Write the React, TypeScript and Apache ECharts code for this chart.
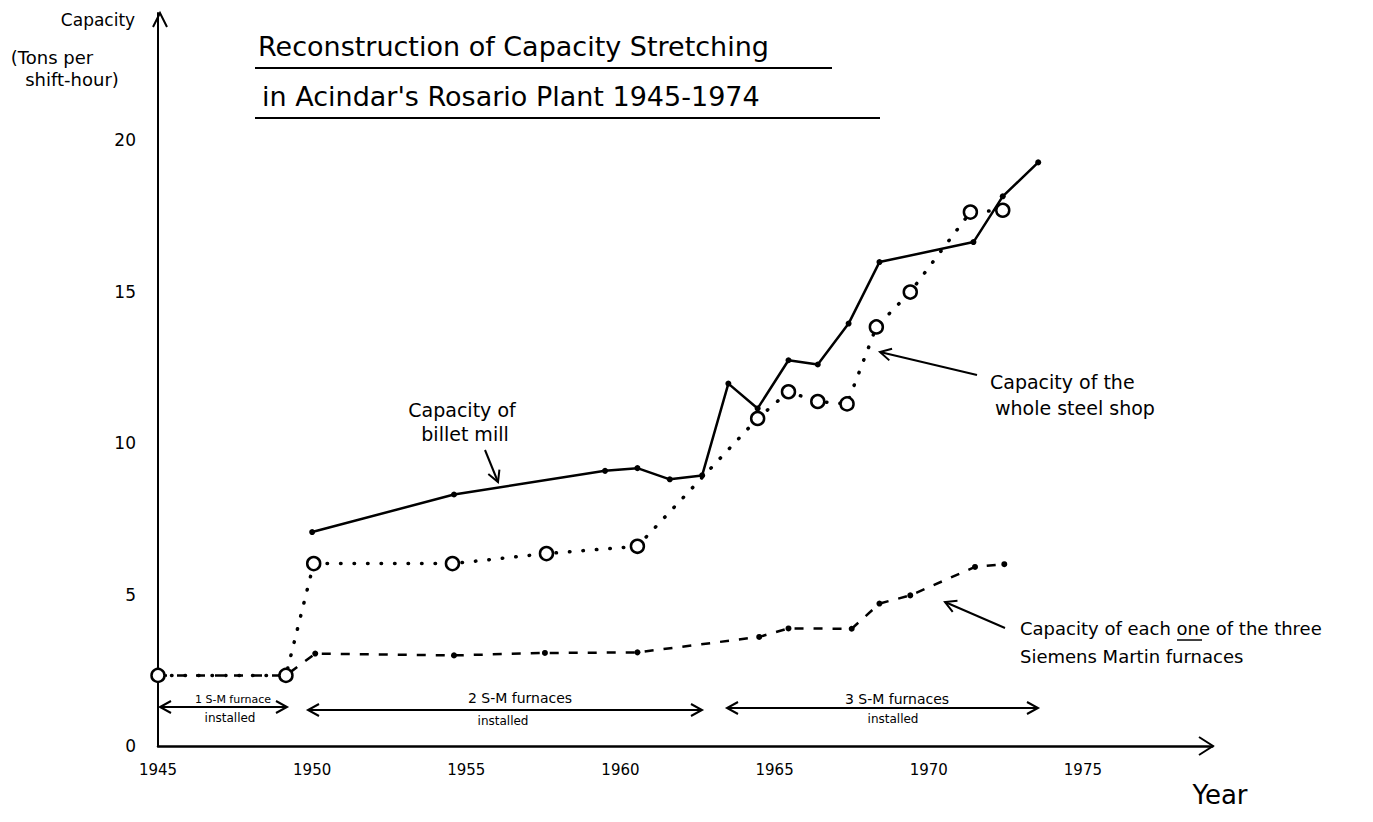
import React, { useEffect, useRef } from "react";
import * as echarts from "echarts";

// ---------- data ----------
const billetYears = [1950.0, 1954.6, 1959.5, 1960.55, 1961.6, 1962.65, 1963.5, 1964.45, 1965.45, 1966.4, 1967.4, 1968.4, 1971.45, 1972.4, 1973.55];
const billetCap = [7.07, 8.31, 9.09, 9.18, 8.81, 8.94, 11.97, 11.15, 12.74, 12.6, 13.95, 15.98, 16.64, 18.15, 19.27];

const wholeYears = [1945, 1949.15, 1950.05, 1954.55, 1957.6, 1960.55, 1964.45, 1965.45, 1966.4, 1967.35, 1968.3, 1969.4, 1971.35, 1972.4];
const wholeCap = [2.34, 2.34, 6.03, 6.03, 6.36, 6.6, 10.82, 11.7, 11.38, 11.3, 13.84, 14.99, 17.63, 17.69];

const furnaceYears = [1945, 1949.15, 1950.1, 1954.6, 1957.55, 1960.55, 1964.5, 1965.45, 1967.5, 1968.4, 1969.4, 1971.5, 1972.45];
const furnaceCap = [2.34, 2.34, 3.06, 3.0, 3.08, 3.1, 3.61, 3.89, 3.88, 4.71, 4.98, 5.92, 6.01];

const yearTicks = [1945, 1950, 1955, 1960, 1965, 1970, 1975];
const capTicks = [0, 5, 10, 15, 20];

const titleLines = ["Reconstruction of Capacity Stretching", "in Acindar's Rosario Plant 1945-1974"];
const yAxisTitle = ["Capacity", "(Tons per", "shift-hour)"];

const FONT = "'DejaVu Sans', 'Liberation Sans', sans-serif";

function zip(xs: number[], ys: number[]) {
  return xs.map((x, i) => [x, ys[i]]);
}

function head(x1: number, y1: number, x2: number, y2: number, len = 11, half = 6) {
  const dx = x2 - x1, dy = y2 - y1;
  const d = Math.sqrt(dx * dx + dy * dy) || 1;
  const ux = dx / d, uy = dy / d;
  const bx = x2 - ux * len, by = y2 - uy * len;
  const px = -uy, py = ux;
  return {
    type: "polyline",
    shape: { points: [[bx + px * half, by + py * half], [x2, y2], [bx - px * half, by - py * half]] },
    style: { stroke: "#000", lineWidth: 2, fill: null },
    z: 10,
  };
}

function arrow(x1: number, y1: number, x2: number, y2: number, both = false) {
  const els: any[] = [
    { type: "line", shape: { x1, y1, x2, y2 }, style: { stroke: "#000", lineWidth: 2 }, z: 10 },
    head(x1, y1, x2, y2),
  ];
  if (both) els.push(head(x2, y2, x1, y1));
  return els;
}

function txt(text: string, x: number, y: number, size: number, align = "center") {
  return {
    type: "text",
    x,
    y,
    z: 10,
    style: {
      text,
      fontSize: size,
      fontFamily: FONT,
      fill: "#000",
      align,
      verticalAlign: "middle",
      textAlign: align,
      textVerticalAlign: "middle",
    },
  };
}

function line(x1: number, y1: number, x2: number, y2: number, w = 2) {
  return { type: "line", shape: { x1, y1, x2, y2 }, style: { stroke: "#000", lineWidth: w }, z: 10 };
}

export default function App() {
  const ref = useRef<HTMLDivElement>(null);

  useEffect(() => {
    if (!ref.current) return;
    const chart = echarts.init(ref.current, undefined, { renderer: "svg" });

    const graphics: any[] = [
      // title
      txt(titleLines[0], 258, 46, 27, "left"),
      line(255, 68, 832, 68, 2),
      txt(titleLines[1], 262, 96, 27, "left"),
      line(255, 118, 880, 118, 2),
      // y-axis title
      txt(yAxisTitle[0], 98, 20, 17),
      txt(yAxisTitle[1], 52, 57, 18),
      txt(yAxisTitle[2], 72, 79, 18),
      // axis arrow heads
      head(160, 60, 160, 13, 14, 7),
      head(1150, 746, 1213, 746, 14, 9),
      // x axis name
      txt("Year", 1220, 795, 26),
      // annotations
      txt("Capacity of", 462, 410, 19),
      txt("billet mill", 465, 434, 19),
      ...arrow(485, 450, 498, 482),
      txt("Capacity of the", 990, 382, 19, "left"),
      txt("whole steel shop", 995, 408, 19, "left"),
      ...arrow(977, 375, 880, 352),
      txt("Capacity of each one of the three", 1020, 628, 18, "left"),
      line(1177, 640, 1202, 640, 1.5),
      txt("Siemens Martin furnaces", 1020, 656, 18, "left"),
      ...arrow(1005, 628, 945, 602),
      // furnace brackets
      ...arrow(160, 707, 287, 707, true),
      txt("1 S-M furnace", 233, 699, 11),
      txt("installed", 230, 718, 12),
      ...arrow(308, 710, 702, 710, true),
      txt("2 S-M furnaces", 520, 698, 14),
      txt("installed", 503, 721, 12),
      ...arrow(727, 708, 1038, 708, true),
      txt("3 S-M furnaces", 897, 699, 14),
      txt("installed", 893, 719, 12),
    ];

    chart.setOption({
      animation: false,
      backgroundColor: "#fff",
      grid: { left: 158, top: 13, width: 1054.4, height: 733.3, containLabel: false },
      xAxis: {
        type: "value",
        min: 1945,
        max: 1979.2,
        interval: 5,
        axisLine: { show: true, lineStyle: { color: "#000", width: 2.5 } },
        axisTick: { show: false },
        splitLine: { show: false },
        showMaxLabel: false,
        axisLabel: {
          color: "#000",
          fontFamily: FONT,
          fontSize: 15,
          margin: 16,
          formatter: (v: number) => (yearTicks.includes(v) ? String(v) : ""),
        },
      },
      yAxis: {
        type: "value",
        min: 0,
        max: 24.2,
        interval: 5,
        axisLine: { show: true, lineStyle: { color: "#000", width: 2 } },
        axisTick: { show: false },
        splitLine: { show: false },
        axisLabel: {
          color: "#000",
          fontFamily: FONT,
          fontSize: 17,
          margin: 22,
          formatter: (v: number) => (capTicks.includes(v) ? String(v) : ""),
        },
      },
      series: [
        {
          name: "Capacity of each one of the three Siemens Martin furnaces",
          type: "line",
          data: zip(furnaceYears, furnaceCap),
          symbol: "circle",
          symbolSize: 6,
          itemStyle: { color: "#000" },
          lineStyle: { color: "#000", width: 2.5, type: [9, 10] },
          z: 2,
        },
        {
          name: "Capacity of billet mill",
          type: "line",
          data: zip(billetYears, billetCap),
          symbol: "circle",
          symbolSize: 6,
          itemStyle: { color: "#000" },
          lineStyle: { color: "#000", width: 2.5, type: "solid" },
          z: 3,
        },
        {
          name: "Capacity of the whole steel shop",
          type: "line",
          data: zip(wholeYears, wholeCap),
          symbol: "circle",
          symbolSize: 13,
          showAllSymbol: true,
          itemStyle: { color: "#fff", borderColor: "#000", borderWidth: 2.5 },
          lineStyle: { color: "#000", width: 3.5, type: [0.5, 13], cap: "round" },
          z: 4,
        },
      ],
      graphic: graphics,
    });

    return () => chart.dispose();
  }, []);

  return (
    <div
      ref={ref}
      style={{ position: "fixed", left: 0, top: 0, width: 1373, height: 822, background: "#fff" }}
    />
  );
}
